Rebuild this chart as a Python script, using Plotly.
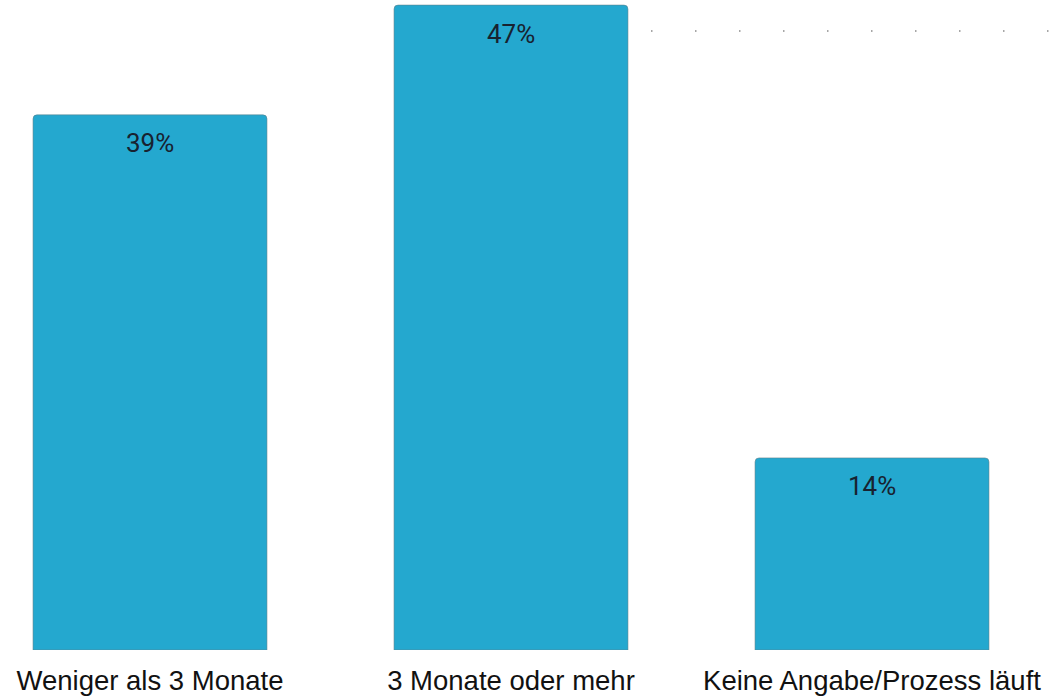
import plotly.graph_objects as go

# Survey answers and their shares (percent)
categories = ["Weniger als 3 Monate", "3 Monate oder mehr", "Keine Angabe/Prozess läuft"]
shares = [39, 47, 14]
share_labels = ["39%", "47%", "14%"]

BAR_COLOR = "#24A8CF"

fig = go.Figure()
fig.add_trace(go.Bar(
    x=categories,
    y=shares,
    width=0.648,
    marker=dict(color=BAR_COLOR, cornerradius=4,
                line=dict(color="rgba(95,125,135,0.55)", width=1)),
    hoverinfo="skip",
))

# value labels placed just below the top of each bar
for cat, val, lab in zip(categories, shares, share_labels):
    fig.add_annotation(x=cat, y=val, text=lab, showarrow=False,
                       yanchor="middle", yshift=-28.5,
                       font=dict(family="Roboto", size=26, color="#182230"))

# sparse dotted reference line at the upper right
fig.add_shape(type="line", xref="paper", yref="paper",
              x0=651 / 1059, x1=1.0, y0=1 - 31 / 650, y1=1 - 31 / 650,
              line=dict(color="#8a8a8a", width=1.5, dash="1.5px,42.5px"))

fig.update_layout(
    width=1059, height=697,
    margin=dict(l=0, r=0, t=0, b=47, pad=0),
    paper_bgcolor="white", plot_bgcolor="white",
    showlegend=False,
    xaxis=dict(range=[-0.4155, 2.518], showgrid=False, zeroline=False, showline=False,
               ticks="outside", ticklen=6, tickcolor="rgba(0,0,0,0)",
               tickfont=dict(family="Liberation Sans", size=27.5, color="#111111")),
    yaxis=dict(range=[0, 47.37], showgrid=False, zeroline=False, showline=False,
               showticklabels=False, ticks=""),
)

fig.write_html("out.html")
